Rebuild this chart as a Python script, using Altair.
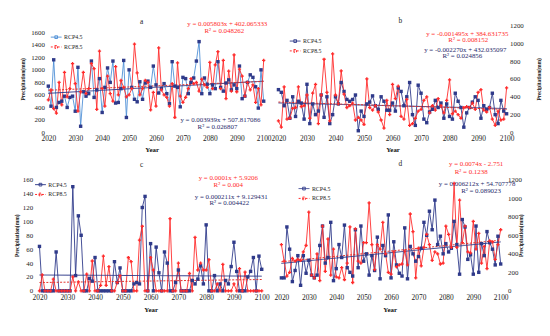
import altair as alt
import pandas as pd

years = list(range(2020, 2101))
series_names = ["RCP4.5", "RCP8.5"]
x_ticks = list(range(2020, 2101, 10))

a_rcp45 = [740, 420, 1160, 400, 480, 500, 580, 400, 560, 580,
           340, 1040, 100, 650, 580, 620, 1140, 560, 680, 860,
           320, 720, 1030, 800, 1140, 470, 480, 700, 1150, 240,
           1000, 720, 530, 490, 810, 530, 790, 820, 720, 1060,
           760, 630, 700, 780, 620, 460, 1130, 740, 720, 410,
           880, 860, 620, 800, 870, 1140, 1450, 620, 870, 770,
           620, 760, 700, 1130, 720, 660, 790, 840, 680, 760,
           700, 1060, 540, 580, 800, 920, 880, 730, 390, 1000,
           500]
a_rcp85 = [520, 680, 380, 310, 800, 440, 960, 570, 700, 1100,
           780, 340, 650, 960, 620, 700, 1100, 1020, 370, 1300,
           700, 420, 900, 620, 500, 1050, 600, 830, 720, 570,
           600, 700, 1410, 950, 600, 700, 830, 800, 360, 640,
           420, 1350, 680, 600, 560, 420, 780, 240, 1110, 580,
           480, 560, 700, 860, 780, 800, 660, 850, 760, 720,
           1120, 700, 1080, 1290, 700, 1150, 540, 980, 660, 1240,
           650, 1010, 900, 580, 800, 680, 760, 480, 700, 440,
           1150]
b_rcp45 = [480, 450, 300, 360, 160, 400, 180, 350, 330, 150,
           540, 100, 320, 200, 240, 420, 170, 400, 100, 200,
           400, 320, 560, 460, 370, 350, 370, 420, 20, 240,
           180, 320, 340, 410, 300, 260, 400, 350, 250, 250,
           330, 240, 500, 460, 300, 400, 560, 200, 80, 530,
           440, 150, 110, 230, 260, 360, 280, 330, 160, 320,
           180, 150, 440, 350, 280, 60, 220, 280,
           340, 400, 360, 160, 300, 260, 280, 440, 200, 100, 360, 240, 210]
b_rcp85 = [130, 60, 510, 150, 160, 270, 280, 510, 290, 300,
           420, 160, 440, 540, 100, 420, 820, 450, 130, 880,
           420, 320, 690, 430, 280, 300, 330, 140, 170, 140,
           90, 600, 280, 250, 300, 230, 140, 50, 360, 200,
           540, 380, 520, 180, 150, 370, 80, 100, 160, 240,
           260, 360, 400, 220, 300, 250, 380, 300, 220, 360,
           590, 210, 240, 200, 160, 280, 290, 280, 330, 260,
           450, 480, 250, 230, 280, 150, 80, 240, 140, 150,
           500]
c_rcp45 = [64, 0, 0, 0, 0, 0, 56, 0, 0, 0,
           0, 0, 150, 22, 108, 80, 0, 0, 18, 14,
           48, 0, 0, 0, 0, 0, 0, 42, 12, 33,
           0, 0, 0, 0, 10, 12, 10, 120, 136, 0,
           68, 0, 63, 26, 0, 56, 40, 0, 0, 12,
           30, 0, 0, 0, 0, 15, 10, 17, 36, 10,
           95, 0, 0, 22, 0, 10, 0, 15, 10, 35,
           70, 28, 0, 0, 0, 20, 28, 48, 0, 50,
           31]
c_rcp85 = [0, 23, 0, 0, 0, 17, 0, 0, 0, 0,
           0, 0, 20, 0, 13, 0, 0, 24, 0, 43,
           0, 0, 8, 50, 8, 35, 0, 0, 12, 22,
           0, 0, 48, 42, 0, 0, 73, 93, 0, 0,
           48, 30, 0, 0, 0, 0, 0, 104, 0, 0,
           40, 0, 0, 0, 25, 0, 77, 30, 40, 30,
           30, 45, 0, 0, 10, 0, 38, 0, 0, 0,
           10, 0, 32, 0, 27, 0, 0, 0, 0, 0,
           0]
d_rcp45 = [140, 140, 690, 450, 100, 220, 380, 60, 380, 190,
           330, 170, 140, 170, 490, 700, 300, 360, 740, 110,
           240, 500, 360, 710, 250, 200, 160, 660, 250, 700,
           320, 400, 170, 380, 220, 580, 130, 490, 380, 820,
           140, 530, 280, 190, 160, 680, 130, 480, 400, 320,
           370, 460, 740, 600, 860, 660, 980, 500, 590, 400,
           510, 420, 460, 750, 500, 180, 770, 690, 340, 390,
           180, 700, 200, 510, 380, 640, 520, 450, 280, 590,
           290]
d_rcp85 = [500, 320, 160, 200, 350, 320, 340, 330, 420, 490,
           850, 170, 140, 400, 110, 700, 210, 560, 170, 450,
           150, 140, 250, 120, 300, 690, 90, 670, 320, 300,
           520, 520, 950, 500, 230, 500, 450, 740, 400, 200,
           180, 420, 260, 280, 290, 430, 280, 830, 640, 140,
           460, 270, 470, 610, 500, 330, 420, 400, 290, 300,
           700, 610, 470, 1160, 470, 980, 520, 700, 420, 410,
           750, 450, 620, 300, 480, 240, 540, 530, 340, 500,
           660]

a_eq = ["y = 0.005803x + 402.065333", "R² = 0.048262", "y = 0.003939x + 507.817086", "R² = 0.026807"]
b_eq = ["y = -0.001495x + 384.631735", "R² = 0.008152", "y = -0.002270x + 432.035097", "R² = 0.024856"]
c_eq = ["y = 0.0001x + 5.9206", "R² = 0.004", "y = 0.000211x + 9.129431", "R² = 0.004422"]
d_eq = ["y = 0.0074x - 2.751", "R² = 0.1238", "y = 0.006212x + 54.707778", "R² = 0.089023"]

FONT = "Liberation Serif"
RED = "#ff2b2b"
NAVY = "#2f3a8a"
LIGHT = "#4d8fd6"
TXT_NAVY = "#1f2a6b"


def panel(v45, v85, letter, eqs, width, height, xdom, ydom, yticks, yorient,
          yoffset, ylabpad, ytitlepad, line45, mark45, leg_xy, title_xy, eq_xy,
          xlabpad, xtitlepad):
    df = pd.DataFrame({
        "year": years + years,
        "series": [series_names[0]] * len(years) + [series_names[1]] * len(years),
        "value": list(v45) + list(v85),
    })
    x = alt.X("year:Q", title="Year",
              scale=alt.Scale(domain=xdom, nice=False, zero=False),
              axis=alt.Axis(values=x_ticks, format="d", labelFont=FONT, labelFontSize=7.5,
                            labelColor="#222", labelPadding=xlabpad, titleFont=FONT,
                            titleFontSize=7, titleFontWeight="bold", titleColor="#111",
                            titlePadding=xtitlepad, domain=False, ticks=False, grid=False,
                            labelFlush=False))
    y = alt.Y("value:Q", title="Precipitation(mm)",
              scale=alt.Scale(domain=ydom, nice=False, zero=True),
              axis=alt.Axis(values=yticks, format="d", orient=yorient, offset=yoffset,
                            labelFont=FONT, labelFontSize=7, labelColor="#222",
                            labelPadding=ylabpad, titleFont=FONT, titleFontSize=5.5,
                            titleFontWeight="bold", titleColor="#111",
                            titlePadding=ytitlepad, titleAngle=270,
                            domain=False, ticks=False, grid=False))
    legend = alt.Legend(title=None, orient="none", legendX=leg_xy[0], legendY=leg_xy[1],
                        labelFont=FONT, labelFontSize=6, labelColor="#222",
                        symbolType="M-1,0H1M-0.25,-0.25H0.25V0.25H-0.25Z", symbolSize=120,
                        symbolStrokeWidth=1, rowPadding=0, padding=0, labelOffset=2)
    base = alt.Chart(df)
    lines = base.mark_line(strokeWidth=0.9).encode(
        x=x, y=y,
        color=alt.Color("series:N", scale=alt.Scale(domain=series_names, range=[line45, RED]),
                        legend=legend))
    trend = base.transform_regression("year", "value", groupby=["series"]).mark_line(
        strokeWidth=1.0).encode(
        x=x, y=y,
        stroke=alt.Stroke("series:N", scale=alt.Scale(domain=series_names, range=[NAVY, "#e0302a"]),
                          legend=None),
        strokeDash=alt.StrokeDash("series:N", scale=alt.Scale(domain=series_names, range=[[1, 0], [2, 1.5]]),
                                  legend=None))
    pts45 = base.transform_filter(alt.datum.series == series_names[0]).mark_point(
        filled=True, size=12, opacity=1, shape="square", color=mark45).encode(x=x, y=y)
    pts85 = base.transform_filter(alt.datum.series == series_names[1]).mark_point(
        filled=True, size=11, opacity=1, shape="cross", color=RED).encode(x=x, y=y)
    items = [(letter, title_xy[0], title_xy[1], "#222", 7.5)]
    cols = [RED, RED, TXT_NAVY, TXT_NAVY]
    for t, (px, py), col in zip(eqs, eq_xy, cols):
        items.append((t, px, py, col, 7))
    texts = []
    for t, px, py, col, fs in items:
        texts.append(alt.Chart(pd.DataFrame({"t": [t]})).mark_text(
            font=FONT, fontSize=fs, color=col, align="center", baseline="middle").encode(
            x=alt.value(px), y=alt.value(py), text="t:N"))
    return alt.layer(lines, trend, pts45, pts85, *texts).properties(width=width, height=height)


pa = panel(a_rcp45, a_rcp85, "a", a_eq, 228, 109, [2016.71, 2100], [0, 1710],
           list(range(0, 1601, 200)), "left", -9, 4, 5, LIGHT, NAVY, (11, 6), (104, -3),
           [(191, -1), (188, 6), (184, 96), (181, 103)], 2, 4)
pb = panel(b_rcp45, b_rcp85, "b", b_eq, 232, 109, [2020, 2100], [0, 1200],
           list(range(0, 1201, 200)), "right", 0, 3, 18, NAVY, NAVY, (11, 10), (124, -4),
           [(192, 9), (193, 15), (190, 25), (187, 31)], 2, 4)
pc = panel(c_rcp45, c_rcp85, "c", c_eq, 226, 113, [2020, 2100], [0, 160],
           list(range(0, 161, 20)), "left", 0, 7, 3, NAVY, NAVY, (-5, -1), (104, -15),
           [(192, -2), (192, 5), (195, 18), (193, 24)], 3, 4)
pd_ = panel(d_rcp45, d_rcp85, "d", d_eq, 226, 113, [2018.92, 2100], [0, 1200],
            list(range(0, 1201, 200)), "right", 0, 7, 2, NAVY, NAVY, (20, 3), (124, -16),
            [(201, -16), (196, -8), (202, 4), (206, 11)], 3, 4)

res = dict(x="independent", y="independent", color="independent", stroke="independent",
           strokeDash="independent")

chart = alt.concat(pa, pb, pc, pd_, columns=2, spacing={"row": 48, "column": 15},
                   bounds="flush", align="each").resolve_scale(**res).resolve_legend(
    color="independent").properties(
    padding={"left": 6, "top": 7, "right": 0, "bottom": 4}).configure_view(strokeWidth=0)

chart.save("out.html", embed_options={"renderer": "svg", "actions": False})
